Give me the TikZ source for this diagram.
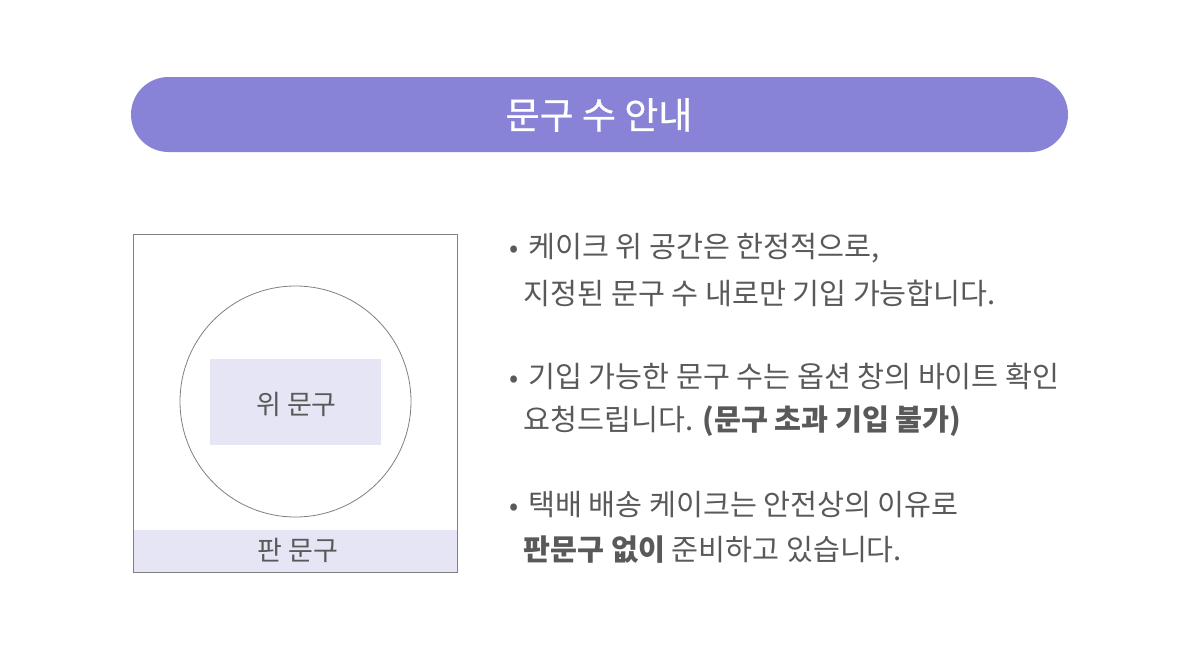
\documentclass[tikz,border=0pt]{standalone}
\usepackage{fontspec}
\setmainfont{Noto Sans CJK KR}
\newfontfamily\titlekr[FakeBold=0.6]{Noto Sans CJK KR}
\definecolor{bannerpurple}{HTML}{8983D8}
\definecolor{paleviolet}{HTML}{E6E5F6}
\definecolor{bodygray}{HTML}{595959}
\newcommand{\bulletmark}{\makebox[19pt][l]{\fontsize{27}{24}\selectfont •}}
\tikzset{
 bodytext/.style={anchor=west,text=bodygray,font=\fontsize{29.3}{34}\selectfont,inner sep=0pt},
 labeltext/.style={text=bodygray,font=\fontsize{27}{32}\selectfont,inner sep=0pt}
}
\begin{document}
\begin{tikzpicture}[x=1pt,y=-1pt]
 \useasboundingbox (0,0) rectangle (1200,672);
 \fill[white](0,0) rectangle (1200,672);
 \fill[bannerpurple,rounded corners=37.5pt](131,77) rectangle (1068,152);
 \node[text=white,font=\titlekr\fontsize{37}{42}\selectfont,inner sep=0pt] (title) at (599,115) {문구 수 안내};
 \fill[paleviolet](134,530) rectangle (457,572);
 \fill[paleviolet](210,359) rectangle (381,445);
 \draw[gray,line width=0.8pt](133.5,234.5) rectangle (457.5,572.5);
 \draw[gray,line width=0.8pt](295.5,401.5) circle (115.5);
 \node[labeltext] (topmsg) at (296.5,404) {위 문구};
 \node[labeltext] (boardmsg) at (298,550) {판 문구};
 \node[bodytext] (lineA) at (509,248) {\bulletmark 케이크 위 공간은 한정적으로,};
 \node[bodytext] (lineB) at (523.5,293) {지정된 문구 수 내로만 기입 가능합니다.};
 \node[bodytext] (lineC) at (509,376.5) {\bulletmark 기입 가능한 문구 수는 옵션 창의 바이트 확인};
 \node[bodytext] (lineD) at (523.5,421.5) {요청드립니다. \textbf{(문구 초과 기입 불가)}};
 \node[bodytext] (lineE) at (509,505) {\bulletmark 택배 배송 케이크는 안전상의 이유로};
 \node[bodytext] (lineF) at (523.5,550) {\textbf{판문구 없이} 준비하고 있습니다.};
\end{tikzpicture}
\end{document}
